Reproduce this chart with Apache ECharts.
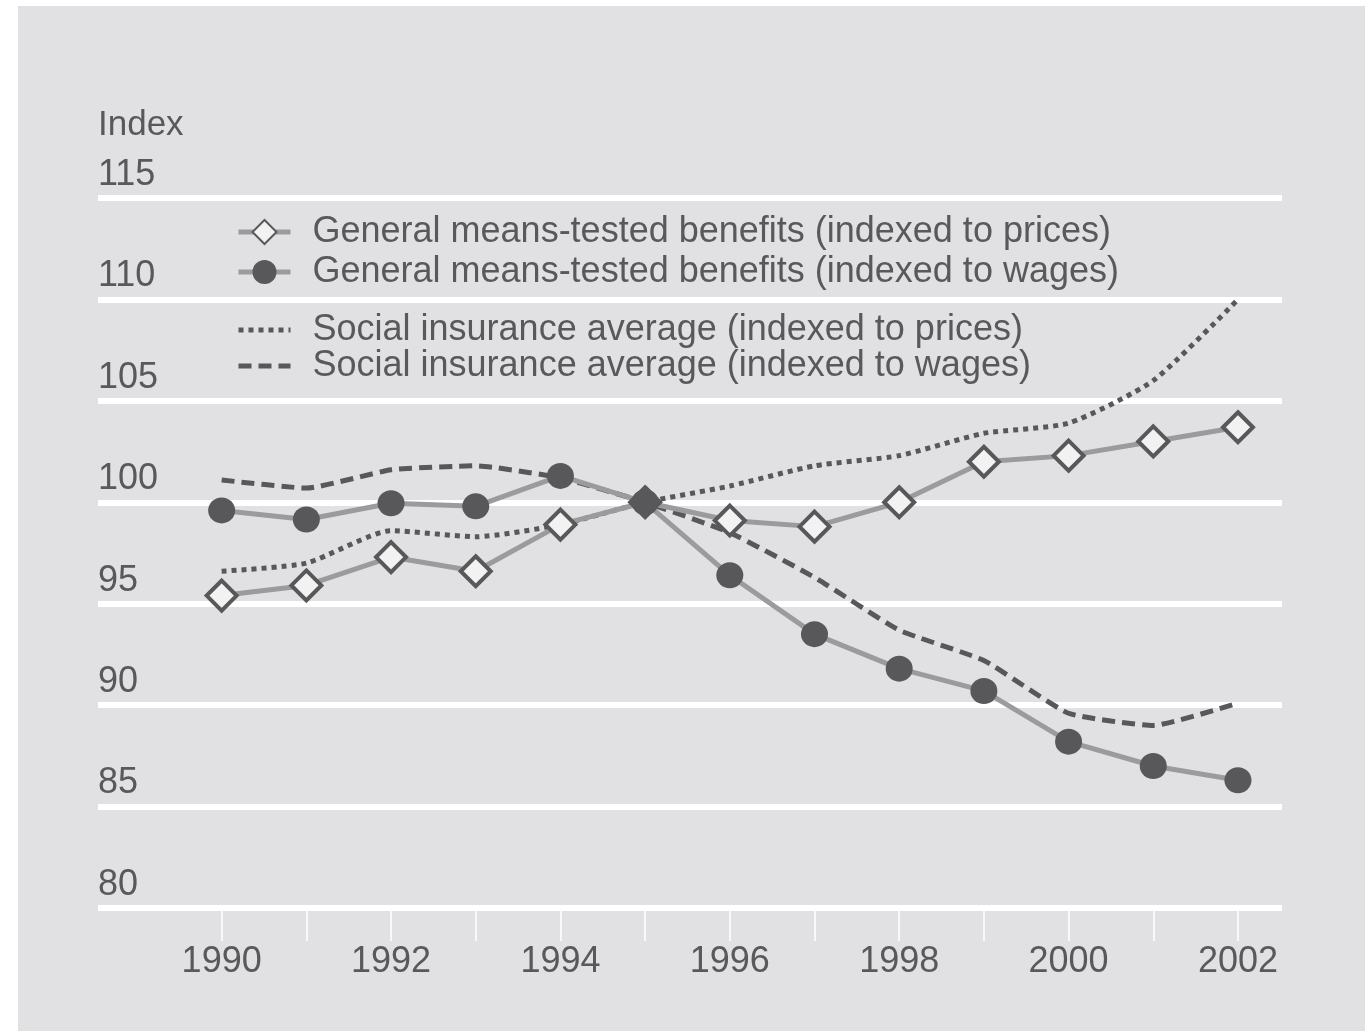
<!DOCTYPE html>
<html>
<head>
<meta charset="utf-8">
<script src="https://cdn.jsdelivr.net/npm/echarts@6/dist/echarts.min.js"></script>
<style>
  body { margin: 0; background: #ffffff; }
  #panel { position: absolute; left: 18px; top: 6px; width: 1347px; height: 1025px; background: #e1e1e3; }
  #chart { position: absolute; left: 0; top: 0; width: 1372px; height: 1031px; }
</style>
</head>
<body>
<div id="panel"></div>
<div id="chart"></div>
<script>
// years and tick labels
const years = [1990, 1991, 1992, 1993, 1994, 1995, 1996, 1997, 1998, 1999, 2000, 2001, 2002];
const yearLabels = [1990, 1992, 1994, 1996, 1998, 2000, 2002];

// index values, 1995 = 100
const meansPrices = [95.4, 95.9, 97.3, 96.6, 98.9, 100, 99.1, 98.8, 100, 102.0, 102.3, 103.0, 103.7];
const meansWages = [99.6, 99.15, 99.95, 99.8, 101.3, 100, 96.4, 93.5, 91.8, 90.7, 88.2, 87.0, 86.3];
const socialPrices = [96.6, 97.0, 98.6, 98.3, 98.9, 100, 100.8, 101.8, 102.3, 103.4, 103.9, 106.0, 110.0];
const socialWages = [101.1, 100.7, 101.6, 101.8, 101.2, 100, 98.5, 96.3, 93.7, 92.2, 89.6, 89.0, 90.1];

const names = [
  'General means-tested benefits (indexed to prices)',
  'General means-tested benefits (indexed to wages)',
  'Social insurance average (indexed to prices)',
  'Social insurance average (indexed to wages)'
];

const txt = '#59595b';
const font = "'Liberation Sans', Arial, sans-serif";

function pairs(vals) {
  return years.map((y, i) => [y, vals[i]]);
}

const legendText = { fontSize: 36, color: txt, lineHeight: 35, padding: [0, 0, 0, 17] };

const chart = echarts.init(document.getElementById('chart'));
chart.setOption({
  animation: false,
  textStyle: { fontFamily: font },
  grid: { left: 98, top: 198, width: 1184, height: 710 },
  legend: [
    {
      data: [names[0], names[1]],
      orient: 'vertical',
      left: 236, top: 214,
      padding: 0,
      itemWidth: 52, itemHeight: 30, itemGap: 4,
      lineStyle: { width: 5 },
      textStyle: legendText
    },
    {
      data: [
        { name: names[2], itemStyle: { opacity: 0 } },
        { name: names[3], itemStyle: { opacity: 0 } }
      ],
      orient: 'vertical',
      left: 236, top: 312,
      padding: 0,
      itemWidth: 52, itemHeight: 30, itemGap: 0,
      lineStyle: { width: 5 },
      textStyle: legendText
    }
  ],
  xAxis: {
    type: 'value',
    min: 1988.54,
    max: 2002.52,
    axisLine: { show: false },
    splitLine: { show: false },
    axisTick: {
      show: true,
      customValues: years,
      length: 33,
      lineStyle: { color: '#ffffff', width: 1.5 }
    },
    axisLabel: {
      customValues: yearLabels,
      formatter: v => String(v),
      fontSize: 36,
      color: txt,
      margin: 36
    }
  },
  yAxis: {
    type: 'value',
    min: 80,
    max: 115,
    interval: 5,
    name: 'Index',
    nameLocation: 'end',
    nameGap: 55,
    nameTextStyle: { fontSize: 35, color: txt, align: 'left', verticalAlign: 'bottom' },
    axisLine: { show: false },
    axisTick: { show: false },
    splitLine: { lineStyle: { color: '#ffffff', width: 6 } },
    axisLabel: {
      inside: true,
      margin: 0,
      fontSize: 36,
      color: txt,
      verticalAlign: 'bottom',
      padding: [0, 0, 5, 0]
    }
  },
  series: [
    {
      name: names[0],
      type: 'line',
      data: pairs(meansPrices),
      z: 4,
      symbol: 'diamond',
      symbolSize: [30, 30],
      lineStyle: { color: '#9b9b9d', width: 5 },
      itemStyle: { color: '#f2f2f2', borderColor: '#58585a', borderWidth: 4 }
    },
    {
      name: names[1],
      type: 'line',
      data: pairs(meansWages),
      z: 4,
      symbol: 'circle',
      symbolSize: [27, 26],
      lineStyle: { color: '#9b9b9d', width: 5 },
      itemStyle: { color: '#58585a' }
    },
    {
      name: names[2],
      type: 'line',
      data: pairs(socialPrices),
      z: 3,
      smooth: 0.2,
      showSymbol: false,
      symbol: 'none',
      lineStyle: { color: '#58585a', width: 5, type: [5, 5] },
      itemStyle: { color: '#58585a' }
    },
    {
      name: names[3],
      type: 'line',
      data: pairs(socialWages),
      z: 3,
      smooth: 0.15,
      showSymbol: false,
      symbol: 'none',
      lineStyle: { color: '#58585a', width: 5, type: [13, 7] },
      itemStyle: { color: '#58585a' }
    }
  ]
});
</script>
</body>
</html>
